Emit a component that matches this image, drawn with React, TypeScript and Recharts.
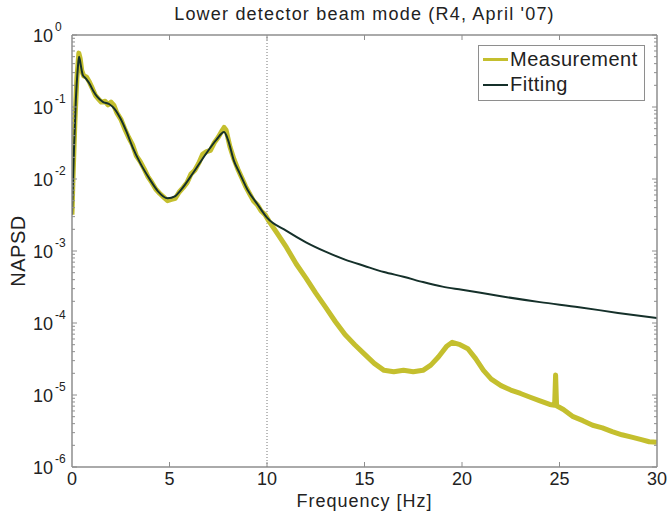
import React from 'react';
import { LineChart, Line, XAxis, YAxis, ReferenceLine, Legend } from 'recharts';

const measFreq = [
  0, 0.05, 0.15, 0.25, 0.35, 0.42, 0.5, 0.6, 0.75, 0.9, 1.05, 1.2, 1.35, 1.5, 1.7, 1.85, 2.0, 2.15, 2.3, 2.5,
  2.7, 2.9, 3.1, 3.3, 3.5, 3.7, 3.9, 4.1, 4.3, 4.5, 4.7, 4.9, 5.1, 5.3, 5.5, 5.7, 5.9, 6.1, 6.3, 6.5,
  6.7, 6.9, 7.1, 7.3, 7.5, 7.7, 7.8, 7.9, 8.1, 8.3, 8.5, 8.7, 8.9, 9.1, 9.3, 9.5, 9.7, 9.9, 10.1, 10.5,
  11, 11.5, 12, 12.5, 13, 13.5, 14, 14.5, 15, 15.5, 16, 16.5, 17, 17.5, 18, 18.4, 18.8, 19.2, 19.5, 19.9,
  20.3, 20.7, 21.1, 21.5, 22, 22.5, 23, 23.5, 24, 24.5, 24.75, 24.8, 24.85, 25.2, 25.7, 26.2, 26.7, 27.2, 27.7, 28.2,
  28.7, 29.2, 29.6, 30,
];
const measValue = [
  0.0032, 0.01, 0.063, 0.25, 0.56, 0.47, 0.32, 0.27, 0.26, 0.22, 0.18, 0.145, 0.13, 0.117, 0.12, 0.107, 0.117, 0.105, 0.083, 0.068,
  0.05, 0.038, 0.03, 0.021, 0.0174, 0.0138, 0.0107, 0.0089, 0.0072, 0.0063, 0.0056, 0.005, 0.0052, 0.0054, 0.0066, 0.0076, 0.0089, 0.0117, 0.0132, 0.0166,
  0.022, 0.024, 0.025, 0.032, 0.038, 0.047, 0.052, 0.048, 0.028, 0.019, 0.0138, 0.0105, 0.0079, 0.0063, 0.005, 0.0044, 0.0036, 0.0032, 0.0026, 0.0018,
  0.00112, 6.6e-4, 4.2e-4, 2.6e-4, 1.66e-4, 1.05e-4, 6.9e-5, 5.0e-5, 3.7e-5, 2.75e-5, 2.2e-5, 2.1e-5, 2.2e-5, 2.1e-5, 2.2e-5, 2.6e-5, 3.4e-5, 4.7e-5, 5.4e-5, 5.0e-5,
  4.4e-5, 3.2e-5, 2.2e-5, 1.66e-5, 1.35e-5, 1.17e-5, 1.05e-5, 9.3e-6, 8.3e-6, 7.4e-6, 7.2e-6, 1.9e-5, 7.1e-6, 6.3e-6, 5.0e-6, 4.4e-6, 3.8e-6, 3.5e-6, 3.1e-6, 2.8e-6,
  2.6e-6, 2.4e-6, 2.24e-6, 2.2e-6,
];

// fitted model
const fitFreq = [
  0, 0.1, 0.2, 0.3, 0.36, 0.45, 0.55, 0.7, 0.9, 1.1, 1.3, 1.6, 1.9, 2.2, 2.5, 2.8, 3.1, 3.5, 4.0, 4.4,
  4.9, 5.3, 5.6, 6.2, 6.9, 7.4, 7.8, 8.0, 8.3, 8.6, 9.0, 9.5, 10, 11, 12, 13, 14, 15, 16, 17,
  18, 19, 20, 22, 24, 26, 28, 30,
];
const fitValue = [
  0.0032, 0.025, 0.13, 0.35, 0.5, 0.38, 0.28, 0.25, 0.21, 0.166, 0.138, 0.117, 0.11, 0.093, 0.068, 0.045, 0.028, 0.0166, 0.0098, 0.0068,
  0.0054, 0.0058, 0.0071, 0.012, 0.023, 0.035, 0.045, 0.035, 0.018, 0.012, 0.0071, 0.0045, 0.0029, 0.0019, 0.00132, 9.8e-4, 7.6e-4, 6.2e-4, 5.1e-4, 4.4e-4,
  3.7e-4, 3.2e-4, 2.9e-4, 2.35e-4, 1.95e-4, 1.66e-4, 1.38e-4, 1.17e-4,
];

const xTicks = [0, 5, 10, 15, 20, 25, 30];
const yExponents = [-6, -5, -4, -3, -2, -1, 0];
const minorMantissas = [2, 3, 4, 5, 6, 7, 8, 9];
const legendOrder = ['Measurement', 'Fitting'];

const MEAS_COLOR = '#c4bf2e';
const FIT_COLOR = '#15302a';
const GREY = '#8e8e8e';
const FONT = '"Liberation Sans", Arial, Helvetica, sans-serif';

const measData = measFreq.map((f, i) => ({ f, v: measValue[i] }));
const fitData = fitFreq.map((f, i) => ({ f, v: fitValue[i] }));
const yMajor = yExponents.map((e) => Math.pow(10, e));
const yMinor = yExponents.slice(0, -1).flatMap((e) => minorMantissas.map((m) => m * Math.pow(10, e)));
const yTicks = [...yMajor, ...yMinor].sort((a, b) => a - b);
const isMajor = (v: number) => yMajor.some((m) => Math.abs(m - v) / m < 1e-6);

const LeftTick = (props: any) => {
  const { x, y, payload } = props;
  const v = payload.value;
  const major = isMajor(v);
  return (
    <g>
      <line x1={x} x2={x + (major ? 5 : 3)} y1={y} y2={y} stroke={GREY} strokeWidth={1} />
      {major && (
        <text x={x - 39} y={y + 6.5} fontSize={18} fill="#222" fontFamily={FONT}>
          10
          <tspan dx={2} dy={-11} fontSize={12}>
            {String(Math.round(Math.log10(v)))}
          </tspan>
        </text>
      )}
    </g>
  );
};

const RightTick = (props: any) => {
  const { x, y, payload } = props;
  const len = isMajor(payload.value) ? 5 : 3;
  return <line x1={x} x2={x - len} y1={y} y2={y} stroke={GREY} strokeWidth={1} />;
};

const BottomTick = (props: any) => {
  const { x, y, payload } = props;
  const v = payload.value;
  const inner = v !== xTicks[0] && v !== xTicks[xTicks.length - 1];
  return (
    <g>
      {inner && <line x1={x} x2={x} y1={y} y2={y - 5} stroke={GREY} strokeWidth={1} />}
      <text x={x} y={y + 18} textAnchor="middle" fontSize={18} fill="#222" fontFamily={FONT}>
        {v}
      </text>
    </g>
  );
};

const TopTick = (props: any) => {
  const { x, y, payload } = props;
  const v = payload.value;
  const inner = v !== xTicks[0] && v !== xTicks[xTicks.length - 1];
  return inner ? <line x1={x} x2={x} y1={y} y2={y + 5} stroke={GREY} strokeWidth={1} /> : <g />;
};

const legendWidths: Record<string, number> = { Measurement: 3, Fitting: 2 };

const renderLegend = (props: any) => {
  const items = [...(props.payload || [])]
    .filter((e: any) => legendOrder.includes(e.value))
    .sort((a: any, b: any) => legendOrder.indexOf(a.value) - legendOrder.indexOf(b.value));
  return (
    <div
      style={{
        border: `1px solid ${GREY}`,
        background: '#fff',
        width: 167,
        height: 56,
        boxSizing: 'border-box',
        padding: '1px 0 0 4px',
        fontFamily: FONT,
        fontSize: 20,
        letterSpacing: 0.5,
        color: '#222',
      }}
    >
      {items.map((entry: any) => (
        <div key={entry.value} style={{ display: 'flex', alignItems: 'center', height: 25 }}>
          <span style={{ display: 'inline-block', width: 25, height: legendWidths[entry.value] || 2, background: entry.color }} />
          <span style={{ marginLeft: 2, lineHeight: '25px' }}>{entry.value}</span>
        </div>
      ))}
    </div>
  );
};

export default function App() {
  return (
    <div style={{ position: 'absolute', left: 0, top: 0, width: 670, height: 516, background: '#fff' }}>
      <LineChart width={670} height={516} margin={{ top: 34, right: 12, bottom: 0, left: 0 }}>
        <XAxis
          xAxisId="x"
          type="number"
          dataKey="f"
          domain={[0, 30]}
          ticks={xTicks}
          interval={0}
          allowDataOverflow
          height={49}
          tickSize={0}
          tickMargin={0}
          tickLine={false}
          tick={<BottomTick />}
          axisLine={{ stroke: GREY, strokeWidth: 1.5 }}
          label={{
            value: 'Frequency [Hz]',
            position: 'insideBottom',
            offset: 9,
            style: { fontSize: 18, fill: '#222', fontFamily: FONT, letterSpacing: 1 },
          }}
        />
        <XAxis
          xAxisId="top"
          orientation="top"
          type="number"
          dataKey="f"
          domain={[0, 30]}
          ticks={xTicks}
          interval={0}
          allowDataOverflow
          height={1}
          tickSize={0}
          tickMargin={0}
          tickLine={false}
          tick={<TopTick />}
          axisLine={{ stroke: GREY, strokeWidth: 1.5 }}
          label={{
            value: "Lower detector beam mode (R4, April '07)",
            position: 'top',
            offset: 14,
            style: { fontSize: 18, fill: '#222', fontFamily: FONT, letterSpacing: 1.2 },
          }}
        />
        <YAxis
          yAxisId="y"
          type="number"
          scale="log"
          domain={[1e-6, 1]}
          allowDataOverflow
          ticks={yTicks}
          interval={0}
          width={72}
          tickSize={0}
          tickMargin={0}
          tickLine={false}
          tick={<LeftTick />}
          axisLine={{ stroke: GREY, strokeWidth: 1.5 }}
          label={{
            value: 'NAPSD',
            angle: -90,
            position: 'insideLeft',
            offset: 18,
            style: { fontSize: 20, fill: '#222', fontFamily: FONT, textAnchor: 'middle', letterSpacing: 0.5 },
          }}
        />
        <YAxis
          yAxisId="right"
          orientation="right"
          type="number"
          scale="log"
          domain={[1e-6, 1]}
          allowDataOverflow
          ticks={yTicks}
          interval={0}
          width={1}
          tickSize={0}
          tickMargin={0}
          tickLine={false}
          tick={<RightTick />}
          axisLine={{ stroke: GREY, strokeWidth: 1.5 }}
        />
        <ReferenceLine xAxisId="x" yAxisId="y" x={10} stroke="#777" strokeDasharray="1 2" strokeWidth={1} />
        <Line
          xAxisId="x"
          yAxisId="y"
          data={measData}
          dataKey="v"
          name="Measurement"
          type="linear"
          stroke={MEAS_COLOR}
          strokeWidth={5}
          strokeLinejoin="round"
          dot={false}
          isAnimationActive={false}
        />
        <Line
          xAxisId="x"
          yAxisId="y"
          data={fitData}
          dataKey="v"
          name="Fitting"
          type="monotone"
          stroke={FIT_COLOR}
          strokeWidth={2}
          dot={false}
          isAnimationActive={false}
        />
        {/* invisible series so the top and right frame axes get registered */}
        <Line
          xAxisId="top"
          yAxisId="right"
          data={fitData}
          dataKey="v"
          name="frame"
          legendType="none"
          stroke="none"
          dot={false}
          activeDot={false}
          isAnimationActive={false}
        />
        <Legend
          layout="vertical"
          align="center"
          verticalAlign="middle"
          content={renderLegend}
          wrapperStyle={{ left: 478, top: 45, width: 167 }}
        />
      </LineChart>
    </div>
  );
}
